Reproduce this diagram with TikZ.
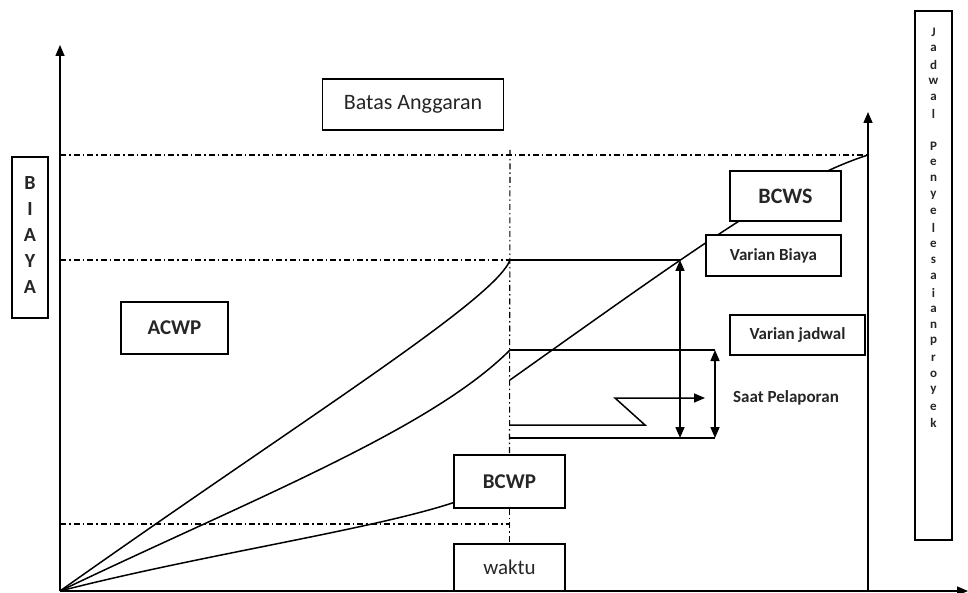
\documentclass[tikz,border=0pt]{standalone}
\usepackage{fontspec}
\setmainfont{Carlito}
\usetikzlibrary{arrows.meta}

\tikzset{
  kotak/.style={draw, line width=1.4pt, fill=white, inner sep=0pt, text=black!85},
  putus/.style={line width=1.1pt, dash pattern=on 6pt off 3pt on 1.5pt off 3pt},
  panah/.style={-{Triangle[length=11pt,width=9pt]}},
  dpanah/.style={{Triangle[length=11pt,width=9pt]}-{Triangle[length=11pt,width=9pt]}},
  huruf/.style={font=\bfseries\fontsize{20}{20}\selectfont, text=black!85, inner sep=0pt},
  hkecil/.style={font=\bfseries\fontsize{13}{13}\selectfont, text=black!85, inner sep=0pt},
}

\begin{document}
\begin{tikzpicture}[x=1pt,y=-1pt,line width=1.5pt]
			\useasboundingbox (0,0) rectangle (968,593);
			% Titik penting
			\coordinate (O) at (60,591);
			\coordinate (Ytop) at (60,45);
			\coordinate (Xend) at (968,591);
			\coordinate (R0) at (868,591);
			\coordinate (Rtop) at (868,112);
			\coordinate (A1) at (510,260);
			\coordinate (P1) at (510,350);
			\coordinate (S0) at (510,380);
			\coordinate (S1) at (868,155);
			\coordinate (T0) at (510,150);
			\coordinate (H0) at (60,524);
			\coordinate (H1) at (510,524);
			\coordinate (VB1) at (680,260);
			\coordinate (VB2) at (680,438);
			\coordinate (VJ1) at (715,350);
			\coordinate (VJ2) at (715,438);
			\coordinate (B0) at (510,438);
			\coordinate (L0) at (510,425);
			\coordinate (L1) at (645,425);
			\coordinate (L2) at (615,398);
			\coordinate (L3) at (705,398);
			% Kotak
			\node[kotak, minimum width=181, minimum height=51, font=\fontsize{22}{22}\selectfont] (batas) at (413,104.5) {Batas Anggaran};
			\node[kotak, minimum width=107, minimum height=52, font=\bfseries\fontsize{21}{21}\selectfont] (acwp) at (174.5,328) {ACWP};
			\node[kotak, minimum width=111, minimum height=53, font=\bfseries\fontsize{21}{21}\selectfont] (bcwp) at (509.5,481.5) {BCWP};
			\node[kotak, minimum width=111, minimum height=47, font=\fontsize{21}{21}\selectfont] (waktu) at (509.5,567.5) {waktu};
			\node[kotak, minimum width=36, minimum height=161] (biaya) at (30,237.5) {};
			\node[kotak, minimum width=37, minimum height=529] (jadwal) at (933.5,275.5) {};
			% Sumbu
			\draw[panah] (O) -- (Ytop);
			\draw[panah] (R0) -- (Rtop);
			\draw[panah] (O) -- (Xend);
			% Garis putus
			\draw[putus] (Ytop |- S1) -- (S1);
			\draw[putus] (Ytop |- A1) -- (A1);
			\draw[putus] (H0) -- (H1);
			\draw[putus] (T0) -- (bcwp.north);
			\draw[putus] (bcwp.south) -- (waktu.north);
			% Kurva
			\draw (O) .. controls (300,421) and (495,300) .. (A1);
			\draw (O) .. controls (250,500) and (430,430) .. (P1);
			\draw (O) .. controls (200,555) and (370,530) .. ([yshift=6pt]bcwp.south west);
			\draw (S0) .. controls (700,245) and (790,180) .. (S1);
			% Varian
			\draw (A1) -- (VB1);
			\draw (P1) -- (VJ1);
			\draw (B0) -- (VJ2);
			\draw[dpanah] (VB1) -- (VB2);
			\draw[dpanah] (VJ1) -- (VJ2);
			\draw[panah] (L0) -- (L1) -- (L2) -- (L3);
			\node[kotak, minimum width=111, minimum height=50, font=\bfseries\fontsize{22}{22}\selectfont] (bcws) at (785.5,196) {BCWS};
			\node[kotak, minimum width=135, minimum height=41, font=\bfseries\fontsize{17}{17}\selectfont] (vbiaya) at (773.5,255.5) {Varian Biaya};
			\node[kotak, minimum width=135, minimum height=40, font=\bfseries\fontsize{17}{17}\selectfont] (vjadwal) at (797.5,335) {Varian jadwal};
			\node[font=\bfseries\fontsize{17}{17}\selectfont, text=black!85] (saat) at (786,398) {Saat Pelaporan};
			% Huruf tegak
			\foreach \h [count=\i from 0] in {B,I,A,Y,A}
			\node[huruf] (b\i) at (30,183+26*\i) {\h};
			\foreach \h [count=\i from 0] in {J,a,d,w,a,l}
			\node[hkecil] (j\i) at (933.5,32+16.3*\i) {\h};
			\foreach \h [count=\i from 7] in {P,e,n,y,e,l,e,s,a,i,a,n,p,r,o,y,e,k}
			\node[hkecil] (j\i) at (933.5,32+16.3*\i) {\h};
		\end{tikzpicture}
\end{document}
